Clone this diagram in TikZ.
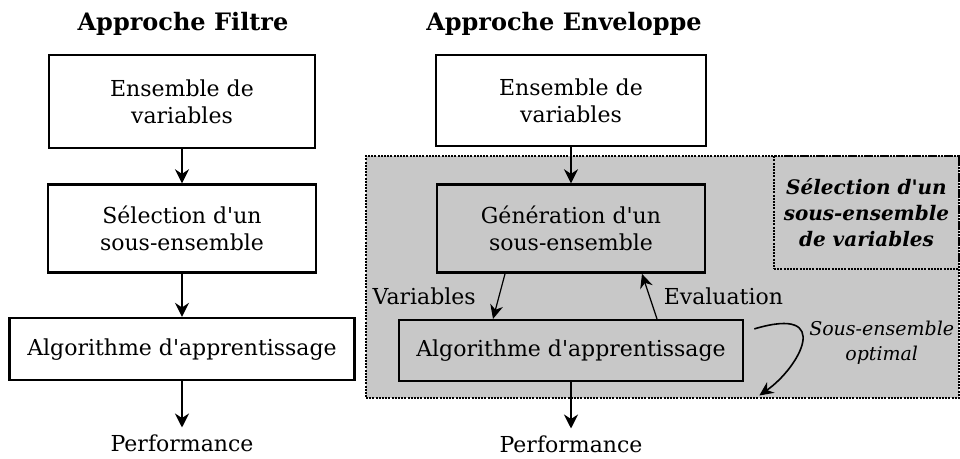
\documentclass[tikz,border=0pt]{standalone}
\usepackage{fontspec}
\setmainfont{DejaVu Serif}
\usepackage{tikz}
\usetikzlibrary{arrows.meta, positioning}

\definecolor{zonegray}{RGB}{200,200,200}
\newcommand{\apos}{\textquotesingle}

\begin{document}
\begin{tikzpicture}[node distance=17pt, auto]
    \tikzstyle{block} = [draw, rectangle, line width=1.3pt, align=center, inner sep=0pt, font=\fontsize{11}{13.5}\selectfont]
    \tikzstyle{titletext} = [font=\fontsize{12}{14}\selectfont\bfseries]
    \tikzstyle{plaintext} = [font=\fontsize{11}{13.5}\selectfont]
    \tikzstyle{dotline} = [draw, line width=1pt, dash pattern=on 1pt off 0.6pt]
    \tikzstyle{line} = [draw, -{Stealth[length=7pt, width=7pt]}, line width=1pt]
    \tikzstyle{thinline} = [draw, -{Stealth[length=7pt, width=6.5pt]}, line width=0.6pt]

    \useasboundingbox (0,0) rectangle (480pt,-229.5pt);

    % Approche Filtre
    \node [titletext] (ftitle) at (91.5pt,-12pt) {Approche Filtre};
    \node [block, minimum width=133pt, minimum height=46.5pt] (fset) at (91pt,-50.75pt) {Ensemble de\\variables};
    \node [block, minimum width=134pt, minimum height=44pt, below=17pt of fset] (fsel) {Sélection d\apos un\\sous-ensemble};
    \node [block, minimum width=172.5pt, minimum height=31pt, below=21.5pt of fsel] (falgo) {Algorithme d\apos apprentissage};
    \node [plaintext, below=23pt of falgo] (fperf) {Performance};

    \draw [line] (fset) -- (fsel);
    \draw [line] (fsel) -- (falgo);
    \draw [line] (falgo) -- (fperf);

    % Approche Enveloppe: gray zone behind the loop
    \node [dotline, fill=zonegray, minimum width=296.5pt, minimum height=121pt, anchor=north west, inner sep=0pt] (zone) at (182.5pt,-77.5pt) {};
    \node [dotline, minimum width=92.5pt, minimum height=56.5pt, anchor=north east, inner sep=0pt, align=center, font=\fontsize{10}{13}\selectfont\bfseries\itshape] (zonelabel) at (zone.north east) {Sélection d\apos un\\sous-ensemble\\de variables};

    \node [titletext] (etitle) at (282pt,-12pt) {Approche Enveloppe};
    \node [block, minimum width=135pt, minimum height=45.5pt] (eset) at (285.5pt,-50.25pt) {Ensemble de\\variables};
    \node [block, minimum width=134pt, minimum height=44pt, below=18pt of eset] (gen) {Génération d\apos un\\sous-ensemble};
    \node [block, minimum width=172pt, minimum height=30.5pt, below=22.5pt of gen] (ealgo) {Algorithme d\apos apprentissage};
    \node [plaintext, below=23pt of ealgo] (eperf) {Performance};

    \draw [line] (eset) -- (gen);
    \draw [thinline] ([xshift=-33pt]gen.south) -- node [plaintext, left=8pt] {Variables} ([xshift=-39pt]ealgo.north);
    \draw [thinline] ([xshift=43pt]ealgo.north) -- node [plaintext, right=3.5pt] {Evaluation} ([xshift=35.5pt]gen.south);
    \draw [line] (ealgo) -- (eperf);

    % optimal subset loop
    \draw [thinline, line width=0.8pt] ([xshift=5pt, yshift=-5pt]ealgo.north east) .. controls +(40pt,12pt) and +(20pt,14pt) ..
        node [pos=0.5, right=0pt, align=center, font=\fontsize{9.5}{12.5}\selectfont\itshape] {Sous-ensemble\\optimal}
        ([xshift=7.5pt, yshift=-6.5pt]ealgo.south east);
\end{tikzpicture}
\end{document}
